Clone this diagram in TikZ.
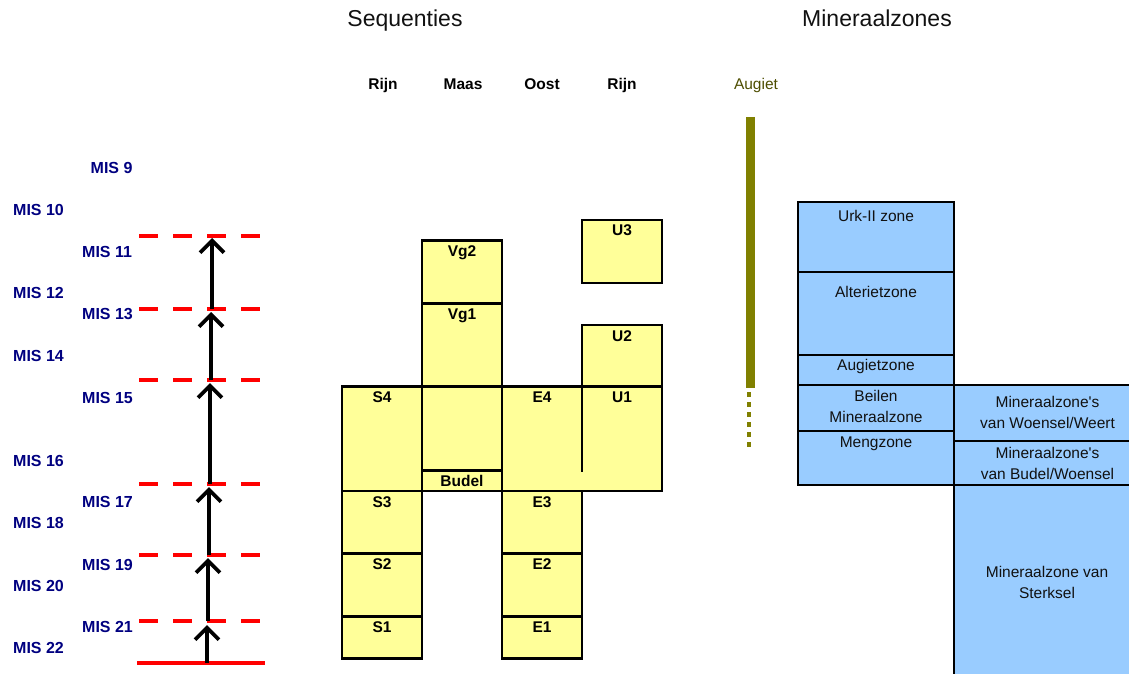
\documentclass[tikz,border=0pt]{standalone}
\usepackage{fontspec}
\setmainfont{Liberation Sans}
\newfontfamily\zonefont{Liberation Sans}
\usetikzlibrary{arrows.meta,calc}
\definecolor{seqyellow}{HTML}{FFFF99}
\definecolor{zoneblue}{HTML}{99CCFF}
\definecolor{misblue}{HTML}{000080}
\definecolor{augbar}{HTML}{808000}
\definecolor{augtext}{HTML}{4D4D00}
\definecolor{zonetext}{HTML}{111111}
\begin{document}
\begin{tikzpicture}[x=1pt,y=-1pt,
  seqbox/.style={draw=black, fill=seqyellow, line width=2.4pt},
  zonebox/.style={draw=black, fill=zoneblue, line width=2pt},
  seqlabel/.style={anchor=base, inner sep=0pt, font=\fontsize{15.5}{18}\selectfont\bfseries},
  zonelabel/.style={anchor=base, inner sep=0pt, font=\zonefont\fontsize{15.5}{18}\selectfont, text=zonetext},
  mislabel/.style={anchor=base west, inner sep=0pt, font=\fontsize{16}{18}\selectfont\bfseries, text=misblue},
  titletext/.style={anchor=base, inner sep=0pt, font=\fontsize{23}{26}\selectfont, text=zonetext},
  levelline/.style={red, line width=4pt, dash pattern=on 19pt off 15pt},
  uparrow/.style={black, line width=4pt, -{Straight Barb[length=12pt,width=24pt,line width=3.8pt]}},
]
\useasboundingbox (0,0) rectangle (1129,674);

% titles
\node[titletext] (tseq) at (405,27) {Sequenties};
\node[titletext] (tmin) at (877,27) {Mineraalzones};

% column headers
\node[seqlabel] (hrijn1) at (383,89.5) {Rijn};
\node[seqlabel] (hmaas) at (463,89.5) {Maas};
\node[seqlabel] (hoost) at (542,89.5) {Oost};
\node[seqlabel] (hrijn2) at (622,89.5) {Rijn};

% MIS labels
\node[mislabel] (mis9)  at (90.5,173.3) {MIS 9};
\node[mislabel] (mis10) at (13,215.7) {MIS 10};
\node[mislabel] (mis11) at (82,257.3) {MIS 11};
\node[mislabel] (mis12) at (13,298.3) {MIS 12};
\node[mislabel] (mis13) at (82,319.3) {MIS 13};
\node[mislabel] (mis14) at (13,361.7) {MIS 14};
\node[mislabel] (mis15) at (82,403.3) {MIS 15};
\node[mislabel] (mis16) at (13,466.7) {MIS 16};
\node[mislabel] (mis17) at (82,507.3) {MIS 17};
\node[mislabel] (mis18) at (13,528.3) {MIS 18};
\node[mislabel] (mis19) at (82,570) {MIS 19};
\node[mislabel] (mis20) at (13,591.7) {MIS 20};
\node[mislabel] (mis21) at (82,632.3) {MIS 21};
\node[mislabel] (mis22) at (13,653.3) {MIS 22};

% level lines
\draw[levelline] (139,236) -- (261,236);
\draw[levelline] (139,309) -- (261,309);
\draw[levelline] (139,380) -- (261,380);
\draw[levelline] (139,484) -- (261,484);
\draw[levelline] (139,555) -- (261,555);
\draw[levelline] (139,621) -- (261,621);
\draw[red, line width=4pt] (137,663) -- (265,663);

% arrow coordinates
\coordinate (base) at (207,663);
\coordinate (l21) at (208,621);
\coordinate (l19) at (209,555);
\coordinate (l17) at (210,484);
\coordinate (l15) at (211,380);
\coordinate (l13) at (212,309);
\coordinate (l11) at (212,236);

\draw[uparrow] (base) -- ($(base |- l21)+(0,4)$);
\draw[uparrow] (l21) -- ($(l21 |- l19)+(0,3)$);
\draw[uparrow] (l19) -- ($(l19 |- l17)+(0,3)$);
\draw[uparrow] (l17) -- ($(l17 |- l15)+(0,3)$);
\draw[uparrow] (l15) -- ($(l15 |- l13)+(0,3)$);
\draw[uparrow] (l13) -- ($(l13 |- l11)+(0,2)$);

% sequence boxes: column S (Rijn)
\draw[seqbox] (342,386.5) rectangle (422,491);
\draw[seqbox] (342,491) rectangle (422,553.5);
\draw[seqbox] (342,553.5) rectangle (422,616.5);
\draw[seqbox] (342,616.5) rectangle (422,658.5);
% Maas
\draw[seqbox] (422,240.5) rectangle (502,303.5);
\draw[seqbox] (422,303.5) rectangle (502,386.5);
\draw[seqbox] (422,386.5) rectangle (502,470.5);
\draw[seqbox] (422,470.5) rectangle (502,491);
% Oost / Rijn merged E4 + U1
\draw[seqbox] (502,386.5) rectangle (662,491);
\draw[black, line width=2.4pt] (582,386.5) -- (582,471.5);
\draw[seqbox] (502,491) rectangle (582,553.5);
\draw[seqbox] (502,553.5) rectangle (582,616.5);
\draw[seqbox] (502,616.5) rectangle (582,658.5);
% Rijn (U)
\draw[seqbox] (582,325) rectangle (662,386.5);
\draw[seqbox] (582,220) rectangle (662,282.7);

% sequence labels
\node[seqlabel] (s4) at (382,402.5) {S4};
\node[seqlabel] (s3) at (382,507) {S3};
\node[seqlabel] (s2) at (382,569.5) {S2};
\node[seqlabel] (s1) at (382,632.5) {S1};
\node[seqlabel] (vg2) at (462,256.7) {Vg2};
\node[seqlabel] (vg1) at (462,319.5) {Vg1};
\node[seqlabel] (budel) at (462,486) {Budel};
\node[seqlabel] (e4) at (542,402.5) {E4};
\node[seqlabel] (e3) at (542,507) {E3};
\node[seqlabel] (e2) at (542,569.5) {E2};
\node[seqlabel] (e1) at (542,632.5) {E1};
\node[seqlabel] (u1) at (622,402.5) {U1};
\node[seqlabel] (u2) at (622,341) {U2};
\node[seqlabel] (u3) at (622,235.7) {U3};

% Augiet
\node[anchor=base, inner sep=0pt, font=\fontsize{15.5}{18}\selectfont, text=augtext] (augiet) at (756,89.3) {Augiet};
\coordinate (augtop) at (750.5,117);
\coordinate (augbot) at (750.5,388);
\draw[augbar, line width=9pt] (augtop) -- (augbot);
\coordinate (dottop) at (749,392);
\coordinate (dotbot) at (749,452);
\draw[augbar, line width=4.5pt, dash pattern=on 4.5pt off 5.5pt] (dottop) -- (dotbot);

% mineral zones
\begin{scope}
\clip (0,0) rectangle (1129,674);
\draw[zonebox] (798,202) rectangle (954,271.7);
\draw[zonebox] (798,271.7) rectangle (954,355);
\draw[zonebox] (798,355) rectangle (954,385);
\draw[zonebox] (798,385) rectangle (954,431);
\draw[zonebox] (798,431) rectangle (954,484.5);
\draw[zonebox] (954,385) rectangle (1140,441);
\draw[zonebox] (954,441) rectangle (1140,485);
\draw[zonebox] (954,485) rectangle (1140,690);
\end{scope}

\node[zonelabel] (urk) at (876,221.3) {Urk-II zone};
\node[zonelabel] (alt) at (876,297) {Alterietzone};
\node[zonelabel] (aug) at (876,370) {Augietzone};
\node[zonelabel] (beil1) at (876,401.3) {Beilen};
\node[zonelabel] (beil2) at (876,422.3) {Mineraalzone};
\node[zonelabel] (meng) at (876,447.7) {Mengzone};
\node[zonelabel] (ww1) at (1047.5,407.3) {Mineraalzone's};
\node[zonelabel] (ww2) at (1047.5,428) {van Woensel/Weert};
\node[zonelabel] (bw1) at (1047.5,458.3) {Mineraalzone's};
\node[zonelabel] (bw2) at (1047.5,479.3) {van Budel/Woensel};
\node[zonelabel] (st1) at (1047,577.3) {Mineraalzone van};
\node[zonelabel] (st2) at (1047,598.3) {Sterksel};
\end{tikzpicture}
\end{document}
